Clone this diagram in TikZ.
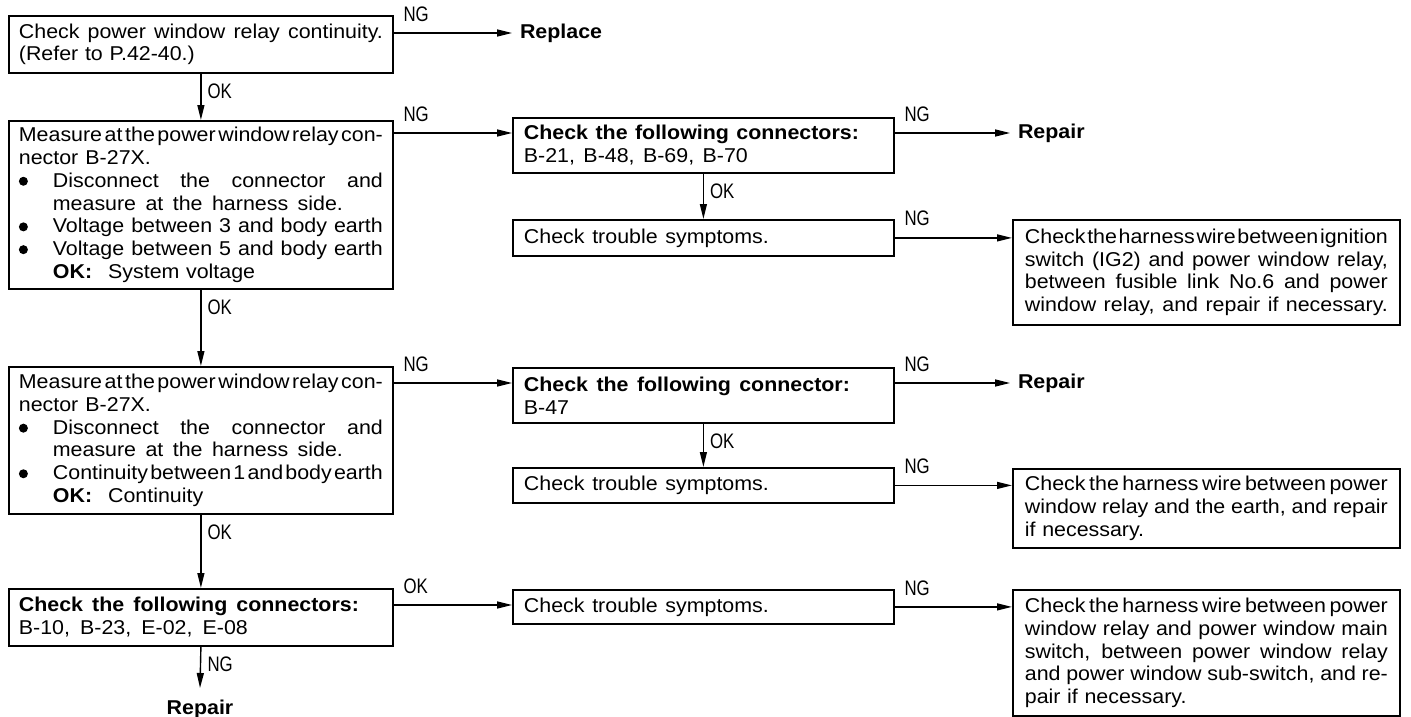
\documentclass[tikz,border=0pt]{standalone}
\usepackage{fontspec}
\setmainfont{Liberation Sans}[FakeStretch=1.07]
\newfontfamily\labfont{Liberation Sans}[FakeStretch=0.8]
\usetikzlibrary{arrows.meta,calc}
\newcommand\jf[2]{\leavevmode\hbox to #1{\spaceskip=0.278em plus 1fil minus 0.25em\xspaceskip=0.278em plus 1fil minus 0.25em\relax #2}}
\newcommand\bul{\makebox[34pt][l]{\tikz[baseline={(0pt,-6pt)}]\fill (4.5pt,0pt) circle[radius=4.5pt];}}
\newcommand\ind{\hspace*{34pt}}
\tikzset{
  box/.style={draw, line width=1.8pt, anchor=north west, inner ysep=2pt, align=left,
    font=\fontsize{20}{22.8}\selectfont},
  lbox/.style={box, text width=364pt, inner xsep=10pt},
  mbox/.style={box, text width=359pt, inner xsep=11pt},
  rbox/.style={box, text width=363pt, inner xsep=12pt},
  lab/.style={font=\labfont\fontsize{21}{22}\selectfont, inner sep=0pt},
  term/.style={font=\bfseries\fontsize{20}{22}\selectfont, inner sep=0pt},
  arr/.style={line width=1.4pt, -{Stealth[length=15pt,width=7pt,inset=0pt]}},
  ngr/.style={lab, pos=0, anchor=south west, xshift=9pt, yshift=11pt},
  ngd/.style={lab, pos=0, anchor=north west, xshift=6pt, yshift=-9pt}
}
\begin{document}
\begin{tikzpicture}[x=1pt,y=-1pt]
\path[use as bounding box, fill=white] (0,0) rectangle (1411,717);

% left column
\node[lbox, minimum height=57pt] (b1) at (8,15)
  {\jf{364pt}{Check power window relay continuity.}\\(Refer to P.42-40.)};
\node[lbox, minimum height=168pt] (b2) at (8,120)
  {\jf{364pt}{Measure at the power window relay con-}\\
   \jf{132pt}{nector B-27X.}\\
   \bul\jf{330pt}{Disconnect the connector and}\\
   \ind\jf{290pt}{measure at the harness side.}\\
   \bul\jf{330pt}{Voltage between 3 and body earth}\\
   \bul\jf{330pt}{Voltage between 5 and body earth}\\
   \ind\textbf{OK:}\hspace{0.8em}System voltage};
\node[lbox, minimum height=147pt] (b3) at (8,366)
  {\jf{364pt}{Measure at the power window relay con-}\\
   \jf{132pt}{nector B-27X.}\\
   \bul\jf{330pt}{Disconnect the connector and}\\
   \ind\jf{290pt}{measure at the harness side.}\\
   \bul\jf{330pt}{Continuity between 1 and body earth}\\
   \ind\textbf{OK:}\hspace{0.8em}Continuity};
\node[lbox, minimum height=57pt] (b5) at (8,588)
  {\textbf{\jf{340pt}{Check the following connectors:}}\\
   \jf{229pt}{B-10, B-23, E-02, E-08}};

% middle column
\node[mbox, minimum height=55pt] (b4) at (512,117)
  {\textbf{\jf{335pt}{Check the following connectors:}}\\
   \jf{224pt}{B-21, B-48, B-69, B-70}};
\node[mbox, minimum height=36pt] (b6) at (512,219)
  {\jf{245pt}{Check trouble symptoms.}};
\node[mbox, minimum height=55pt] (b8) at (512,367)
  {\textbf{\jf{326pt}{Check the following connector:}}\\
   B-47};
\node[mbox, minimum height=35pt] (b10) at (512,467)
  {\jf{245pt}{Check trouble symptoms.}};
\node[mbox, minimum height=34pt] (b9) at (512,589)
  {\jf{245pt}{Check trouble symptoms.}};

% right column
\node[rbox, minimum height=105pt] (b7) at (1012,219)
  {\jf{363pt}{Check the harness wire between ignition}\\
   \jf{363pt}{switch (IG2) and power window relay,}\\
   \jf{363pt}{between fusible link No.6 and power}\\
   \jf{363pt}{window relay, and repair if necessary.}};
\node[rbox, minimum height=79pt] (b11) at (1012,468)
  {\jf{363pt}{Check the harness wire between power}\\
   \jf{363pt}{window relay and the earth, and repair}\\
   if necessary.};
\node[rbox, minimum height=126pt] (b12) at (1012,589)
  {\jf{363pt}{Check the harness wire between power}\\
   \jf{363pt}{window relay and power window main}\\
   \jf{363pt}{switch, between power window relay}\\
   \jf{363pt}{and power window sub-switch, and re-}\\
   pair if necessary.};

% terminals
\node[term, anchor=west, outer xsep=8pt] (rep1) at (512,33) {Replace};
\node[term, anchor=west, outer xsep=8pt] (rep2) at (1010,133) {Repair};
\node[term, anchor=west, outer xsep=8pt] (rep3) at (1010,383) {Repair};
\node[term, anchor=north, outer ysep=12pt] (rep4) at (200,688) {Repair};

% connection points
\coordinate (p1) at ($(b1.north east)+(0,18)$);
\coordinate (p2) at ($(b2.north east)+(0,13)$);
\coordinate (p4) at ($(b4.north east)+(0,16)$);
\coordinate (p3) at ($(b3.north east)+(0,17)$);
\coordinate (p8) at ($(b8.north east)+(0,16)$);
\coordinate (p5) at ($(b5.north east)+(0,17)$);

% horizontal connectors
\draw[arr] (p1) -- node[ngr]{NG} (p1 -| rep1.west);
\draw[arr] (p2) -- node[ngr]{NG} (p2 -| b4.west);
\draw[arr] (p4) -- node[ngr]{NG} (p4 -| rep2.west);
\draw[arr] (b6.east) -- node[ngr]{NG} (b6.east -| b7.west);
\draw[arr] (p3) -- node[ngr]{NG} (p3 -| b8.west);
\draw[arr] (p8) -- node[ngr]{NG} (p8 -| rep3.west);
\draw[arr] (b10.east) -- node[ngr]{NG} (b10.east -| b11.west);
\draw[arr] (p5) -- node[ngr]{OK} (p5 -| b9.west);
\draw[arr] (b9.east) -- node[ngr]{NG} (b9.east -| b12.west);

% vertical connectors
\draw[arr] (b1.south) -- node[ngd]{OK} (b2.north);
\draw[arr] (b2.south) -- node[ngd]{OK} (b3.north);
\draw[arr] (b3.south) -- node[ngd]{OK} (b5.north);
\draw[arr] (b5.south) -- node[ngd]{NG} (rep4.north);
\draw[arr] (b4.south) -- node[ngd]{OK} (b6.north);
\draw[arr] (b8.south) -- node[ngd]{OK} (b10.north);
\end{tikzpicture}
\end{document}
